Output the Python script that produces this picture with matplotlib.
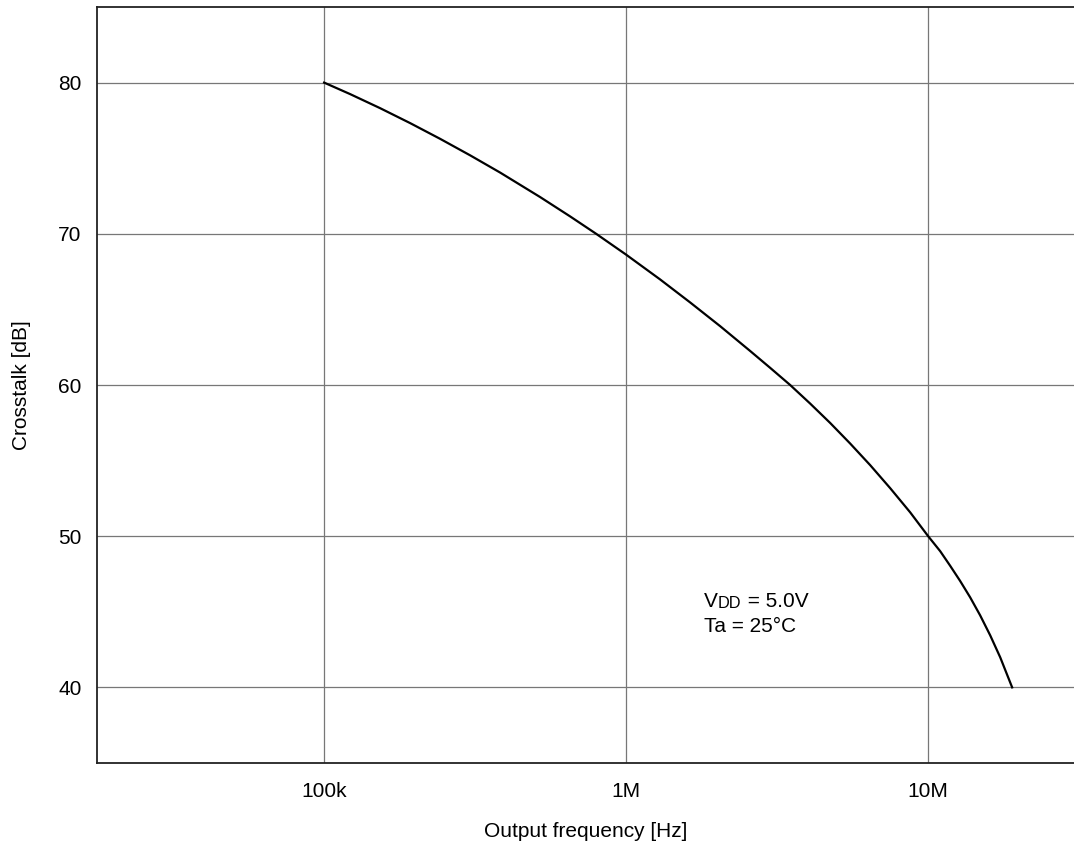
import matplotlib.pyplot as plt

plt.rcParams['font.family'] = ['Liberation Sans', 'DejaVu Sans']

# curve (frequency in Hz, crosstalk in dB)
freq = [1.0e5, 1.219e5, 1.532e5, 1.927e5, 2.422e5, 3.044e5, 3.826e5, 5.19e5,
        6.524e5, 7.956e5, 1.0e6, 1.296e6, 1.629e6, 2.048e6, 2.574e6, 3.0e6,
        3.492e6, 4.068e6, 4.737e6, 5.517e6, 6.427e6, 7.484e6, 8.717e6, 1.0e7,
        1.096e7, 1.182e7, 1.276e7, 1.377e7, 1.486e7, 1.605e7, 1.732e7, 1.897e7]
crosstalk = [80.00, 79.24, 78.31, 77.32, 76.28, 75.19, 74.05, 72.43,
             71.15, 70.00, 68.62, 66.98, 65.46, 63.89, 62.25, 61.13,
             60.00, 58.77, 57.49, 56.13, 54.70, 53.18, 51.58, 50.00,
             49.01, 48.05, 47.04, 45.96, 44.77, 43.44, 41.99, 40.00]

xticks = [1e5, 1e6, 1e7]
xticklabels = ['100k', '1M', '10M']
yticks = [40, 50, 60, 70, 80]

FS = 15

fig = plt.figure(figsize=(10.74, 8.46), dpi=100)
ax = fig.add_axes([97 / 1074, 83 / 846, 1 - 97 / 1074, (763 - 7) / 846])

ax.plot(freq, crosstalk, color='black', linewidth=1.6, zorder=3)

ax.set_xscale('log')
ax.set_xlim(17.7e3, 30.4e6)
ax.set_ylim(35, 85)
ax.set_xticks(xticks)
ax.set_xticklabels(xticklabels)
ax.set_yticks(yticks)
ax.minorticks_off()
ax.tick_params(length=0, labelsize=FS)
ax.tick_params(axis='x', pad=13.5)
ax.tick_params(axis='y', pad=11)

ax.grid(True, color='#777777', linewidth=0.9)
ax.spines['right'].set_visible(False)
for s in ['left', 'bottom', 'top']:
    ax.spines[s].set_linewidth(1.3)
    ax.spines[s].set_color('#222222')

ax.set_xlabel('Output frequency [Hz]', fontsize=FS, labelpad=15)
ax.set_ylabel('Crosstalk [dB]', fontsize=FS, labelpad=20)

# condition note: V with small-cap DD
t1 = ax.text(1.813e6, 45.32, 'V', fontsize=FS, ha='left', va='baseline')
t2 = ax.annotate('DD', xy=(1, 0), xycoords=t1, fontsize=11.7, ha='left', va='bottom')
ax.annotate(' = 5.0V', xy=(1, 0), xycoords=t2, fontsize=FS, ha='left', va='bottom')
ax.text(1.813e6, 43.66, 'Ta = 25°C', fontsize=FS, ha='left', va='baseline')

fig.savefig('out.png', dpi=100)
